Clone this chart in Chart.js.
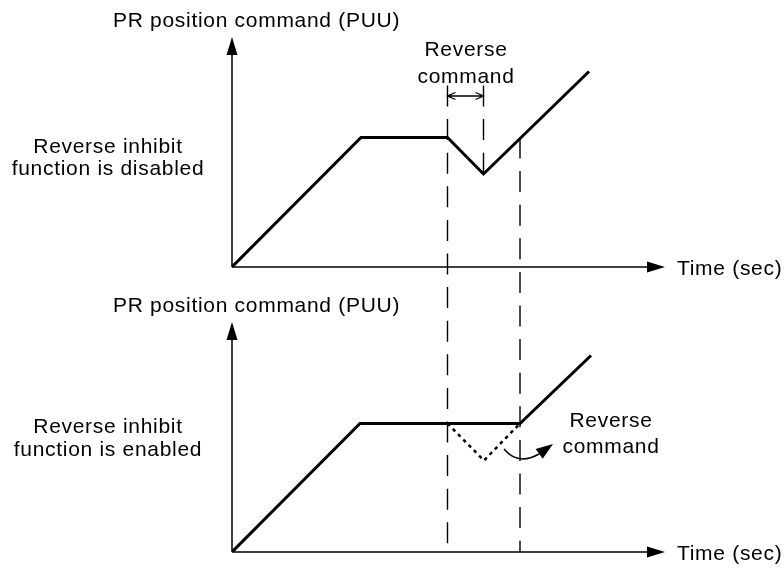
<!DOCTYPE html>
<html>
<head>
<meta charset="utf-8">
<script src="https://cdn.jsdelivr.net/npm/chart.js@4"></script>
<style>
  html, body { margin: 0; padding: 0; background: #fff; }
  canvas { display: block; }
</style>
</head>
<body>
<canvas id="chart" width="784" height="572"></canvas>
<script>
// values, 1 unit ~ 10px
const timeTop = [0, 12.9, 21.55, 25.15, 35.7];
const posTop = [0, 12.95, 12.95, 9.3, 19.55];

const timeBot = [0, 12.8, 28.8, 35.9];
const posBot = [0, 12.85, 12.85, 19.65];

// the reverse move that is suppressed (dotted)
const timeRev = [21.55, 25.2, 28.8];
const posRev = [12.85, 9.15, 12.85];

// dashed guides, in top-panel units
const guideTimes = [21.55, 25.15, 28.8];
const guideFrom = [18.15, 18.15, 12.95];
const guideTo = [-27.75, 9.3, -28.5];

const xMax = 43.3;
const yAxisLen = 23.0;

const FONT = "21px 'Liberation Sans', Arial, sans-serif";

function pts(xs, ys) {
  return xs.map((x, i) => ({x: x, y: ys[i]}));
}

const guideSets = guideTimes.map((t, i) => ({
  data: [{x: t, y: guideFrom[i]}, {x: t, y: guideTo[i]}],
  yAxisID: 'yTop',
  borderColor: '#000',
  borderWidth: 1.4,
  borderDash: [21, 12.6],
  pointRadius: 0
}));

function arrowHead(ctx, tipX, tipY, dx, dy, len, half) {
  const l = Math.sqrt(dx * dx + dy * dy);
  const ux = dx / l, uy = dy / l;
  const bx = tipX - ux * len, by = tipY - uy * len;
  ctx.beginPath();
  ctx.moveTo(tipX, tipY);
  ctx.lineTo(bx - uy * half, by + ux * half);
  ctx.lineTo(bx + uy * half, by - ux * half);
  ctx.closePath();
  ctx.fill();
}

function text(ctx, s, x, y, align) {
  ctx.textAlign = align || 'left';
  ctx.fillText(s, x, y);
}

const decor = {
  id: 'decor',
  afterDatasetsDraw(chart) {
    const ctx = chart.ctx;
    const xs = chart.scales.x;
    const x0 = xs.getPixelForValue(0);
    const xEnd = xs.getPixelForValue(xMax);
    ctx.save();
    ctx.fillStyle = '#000';
    ctx.strokeStyle = '#000';

    // axes of both panels
    ['yTop', 'yBot'].forEach(id => {
      const ys = chart.scales[id];
      const y0 = ys.getPixelForValue(0);
      const yTip = ys.getPixelForValue(yAxisLen);
      ctx.lineWidth = 1.5;
      ctx.beginPath();
      ctx.moveTo(x0, y0);
      ctx.lineTo(x0, yTip + 14);
      ctx.moveTo(x0, y0);
      ctx.lineTo(xEnd - 14, y0);
      ctx.stroke();
      arrowHead(ctx, x0, yTip, 0, -1, 18, 5.5);
      arrowHead(ctx, xEnd, y0, 1, 0, 18, 5.5);
    });

    // double arrow for the reverse command span
    const yT = chart.scales.yTop;
    const ay = yT.getPixelForValue(17.1);
    const ax1 = xs.getPixelForValue(guideTimes[0]);
    const ax2 = xs.getPixelForValue(guideTimes[1]);
    ctx.lineWidth = 1.3;
    ctx.beginPath();
    ctx.moveTo(ax1, ay); ctx.lineTo(ax2, ay);
    ctx.moveTo(ax1 + 8, ay - 3.5); ctx.lineTo(ax1, ay); ctx.lineTo(ax1 + 8, ay + 3.5);
    ctx.moveTo(ax2 - 8, ay - 3.5); ctx.lineTo(ax2, ay); ctx.lineTo(ax2 - 8, ay + 3.5);
    ctx.stroke();

    // curved arrow in lower panel
    ctx.lineWidth = 1.5;
    ctx.beginPath();
    ctx.moveTo(504, 449);
    ctx.quadraticCurveTo(518, 466, 539, 454);
    ctx.stroke();
    arrowHead(ctx, 553, 444, 14, -10, 17, 6);

    // labels
    ctx.font = FONT;
    ctx.letterSpacing = '0.7px';
    ctx.textBaseline = 'alphabetic';
    text(ctx, 'PR position command (PUU)', 113, 27);
    text(ctx, 'PR position command (PUU)', 113, 312);
    text(ctx, 'Time (sec)', 677, 275);
    text(ctx, 'Time (sec)', 677, 560);
    text(ctx, 'Reverse inhibit', 108, 153, 'center');
    text(ctx, 'function is disabled', 108, 175, 'center');
    text(ctx, 'Reverse inhibit', 108, 433, 'center');
    text(ctx, 'function is enabled', 108, 456, 'center');
    text(ctx, 'Reverse', 466, 56, 'center');
    text(ctx, 'command', 466, 82.5, 'center');
    text(ctx, 'Reverse', 611, 427, 'center');
    text(ctx, 'command', 611, 453, 'center');
    ctx.restore();
  }
};

new Chart(document.getElementById('chart'), {
  type: 'line',
  data: {
    datasets: [
      {
        data: pts(timeTop, posTop),
        yAxisID: 'yTop',
        borderColor: '#000',
        borderWidth: 3,
        pointRadius: 0
      },
      {
        data: pts(timeBot, posBot),
        yAxisID: 'yBot',
        borderColor: '#000',
        borderWidth: 3,
        pointRadius: 0
      },
      {
        data: pts(timeRev, posRev),
        yAxisID: 'yBot',
        borderColor: '#000',
        borderWidth: 2.5,
        borderDash: [3.5, 4],
        pointRadius: 0
      },
      ...guideSets
    ]
  },
  options: {
    responsive: false,
    animation: false,
    devicePixelRatio: 1,
    layout: { padding: { left: 232, right: 119, top: 37, bottom: 20 } },
    plugins: { legend: { display: false }, tooltip: { enabled: false } },
    elements: { line: { tension: 0, borderJoinStyle: 'miter', fill: false } },
    scales: {
      x: { type: 'linear', min: 0, max: xMax, display: false },
      yTop: { type: 'linear', min: -28.5, max: 23.0, display: false },
      yBot: { type: 'linear', min: 0, max: 51.5, display: false }
    }
  },
  plugins: [decor]
});
</script>
</body>
</html>
